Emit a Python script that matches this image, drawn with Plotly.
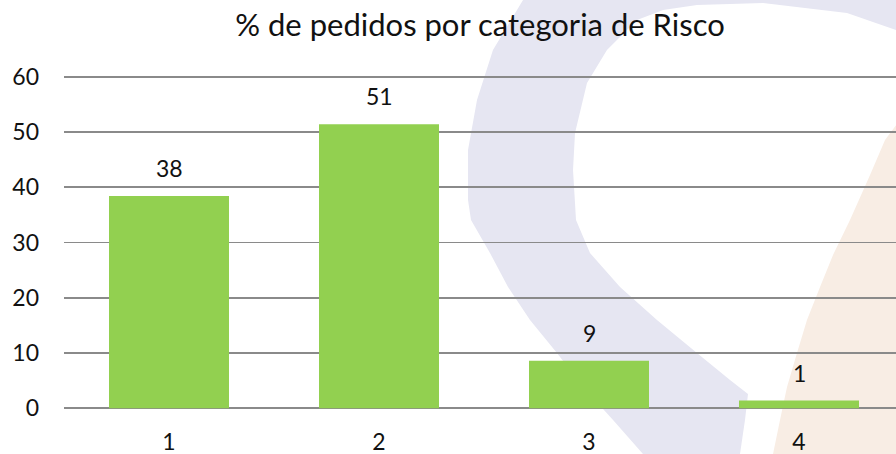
import plotly.graph_objects as go

# ---- data ----
categories = ["1", "2", "3", "4"]
percent_values = [38.4, 51.4, 8.6, 1.4]
y_tick_values = [0, 10, 20, 30, 40, 50, 60]
title_text = "% de pedidos por categoria de Risco"

# ---- layout constants ----
W, H = 896, 454
ML, MR, MT, MB = 64, 0, 74, 43
PW, PH = W - ML - MR, H - MT - MB
FONT = "Lato"
BAR_COLOR = "#92d050"
GRID_COLOR = "#8a8a8a"
TXT = "#111111"


def to_paper(pts):
    out = []
    for i, (px, py) in enumerate(pts):
        xp = (px - ML) / PW
        yp = (H - MB - py) / PH
        out.append(("M" if i == 0 else "L") + f"{xp:.4f},{yp:.4f}")
    return " ".join(out) + " Z"


lavender_pts = [
    (525, -5), (523, 0), (493, 50), (477, 100), (468, 150), (468, 200), (471, 220),
    (490, 253), (508, 287), (530, 320), (557, 353), (583, 387), (613, 420), (643, 454),
    (645, 460), (740, 460), (740, 454), (745, 420), (748, 394), (730, 380), (697, 353),
    (657, 320), (620, 287), (590, 253), (576, 220), (573, 170), (575, 133), (587, 83),
    (607, 50), (637, 20), (663, 10), (697, 5), (763, 3), (847, 13), (896, 30), (900, 32),
    (900, -5),
]
peach_pts = [
    (900, 120), (885, 140), (870, 175), (850, 220), (833, 255), (820, 287),
    (807, 320), (797, 353), (787, 387), (780, 420), (773, 454), (772, 460), (900, 460),
]

shapes = [
    dict(type="path", xref="paper", yref="paper", path=to_paper(lavender_pts),
         fillcolor="#e6e6f2", line=dict(width=0), layer="below"),
    dict(type="path", xref="paper", yref="paper", path=to_paper(peach_pts),
         fillcolor="#f8ede4", line=dict(width=0), layer="below"),
]

fig = go.Figure()
fig.add_trace(go.Bar(
    x=categories, y=percent_values, marker=dict(color=BAR_COLOR, line=dict(width=0)),
    hoverinfo="skip",
))

for i, v in enumerate(percent_values):
    fig.add_annotation(x=i, y=v, text=f"{v:.0f}", showarrow=False, yanchor="bottom",
                       yshift=12, font=dict(family=FONT, size=23, color=TXT))

fig.update_layout(
    width=W, height=H,
    margin=dict(l=ML, r=MR, t=MT, b=MB, pad=0, autoexpand=False),
    paper_bgcolor="white", plot_bgcolor="rgba(0,0,0,0)",
    showlegend=False,
    bargap=0.4286,
    shapes=shapes,
    title=dict(text=title_text, x=0.5, xanchor="center", xref="paper",
               y=1 - 25 / H, yanchor="middle", yref="container",
               font=dict(family=FONT, size=31, color=TXT)),
    font=dict(family=FONT, size=23, color=TXT),
)
fig.update_xaxes(type="category", range=[-0.5, 3.4619], showgrid=False, showline=False,
                 zeroline=False, ticks="", ticklabelstandoff=15, automargin=False,
                 tickfont=dict(family=FONT, size=23, color=TXT))
fig.update_yaxes(range=[-0.5, 60.5], tickvals=y_tick_values, showgrid=True,
                 gridcolor=GRID_COLOR, gridwidth=1.6, zeroline=True,
                 zerolinecolor=GRID_COLOR, zerolinewidth=1.6, showline=False,
                 ticks="", ticklabelstandoff=24, automargin=False,
                 tickfont=dict(family=FONT, size=23, color=TXT))

fig.write_html(
    "out.html",
    config={"displayModeBar": False, "staticPlot": True},
    post_script="document.body.style.margin='0';document.body.style.overflow='hidden';",
)
